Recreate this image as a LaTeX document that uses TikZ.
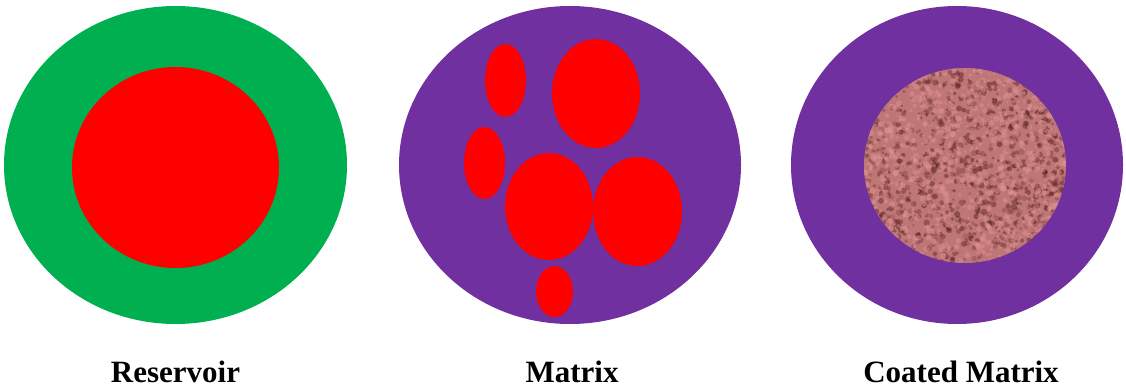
\documentclass[tikz,border=0pt]{standalone}
\usepackage{fontspec}
\setmainfont{Liberation Serif}
\definecolor{shellgreen}{HTML}{00B050}
\definecolor{shellpurple}{HTML}{7030A0}
\definecolor{drugred}{HTML}{FF0000}
\definecolor{coatpink}{RGB}{190,118,118}
\definecolor{coatdark}{RGB}{85,28,32}
\definecolor{coatlight}{RGB}{228,150,148}

\begin{document}
\begin{tikzpicture}[x=1pt,y=-1pt,
 lbl/.style={font=\fontsize{31}{37}\selectfont\bfseries,anchor=base}]
\useasboundingbox (0,0) rectangle (1126,390);
% reservoir
\fill[shellgreen] (175.5,165) ellipse [x radius=171.5,y radius=159];
\fill[drugred] (175.5,167.5) ellipse [x radius=103.5,y radius=100.5];
% matrix
\fill[shellpurple] (570,165) ellipse [x radius=171,y radius=159];
\foreach \cx/\cy/\rx/\ry in {505.5/80.5/20.5/36.5, 596/93.5/44/54.5, 484.5/163/20.5/36,
  549/206.5/44/53.5, 637.5/211.5/44.5/54.5, 554.5/291.5/18.5/25.5}
  \fill[drugred] (\cx,\cy) ellipse [x radius=\rx,y radius=\ry];
% coated matrix
\fill[shellpurple] (957,165) ellipse [x radius=166,y radius=159];
\begin{scope}
\clip (965,165.5) ellipse [x radius=101,y radius=97.5];
\fill[coatpink] (864,68) rectangle (1066,263);
\pgfmathsetseed{4711}
\foreach \i in {1,...,1100}{
  \pgfmathsetmacro\px{864+202*rnd}
  \pgfmathsetmacro\py{68+195*rnd}
  \pgfmathsetmacro\pr{1.2+2*rnd}
  \pgfmathsetmacro\po{0.15+0.35*rnd}
  \fill[coatdark,opacity=\po] (\px,\py) circle [radius=\pr];
}
\foreach \i in {1,...,900}{
  \pgfmathsetmacro\px{864+202*rnd}
  \pgfmathsetmacro\py{68+195*rnd}
  \pgfmathsetmacro\pr{1.2+2*rnd}
  \fill[coatlight,opacity=0.45] (\px,\py) circle [radius=\pr];
}
\end{scope}
% labels
\node[lbl] (reslbl) at (175.5,382) {Reservoir};
\node[lbl] (matlbl) at (572,382) {Matrix};
\node[lbl] (coatlbl) at (961,382) {Coated Matrix};
\end{tikzpicture}
\end{document}
